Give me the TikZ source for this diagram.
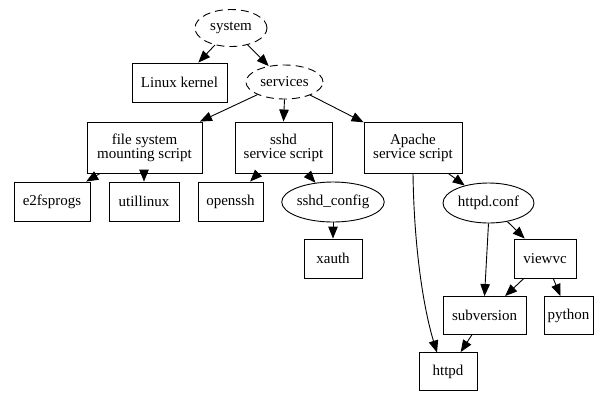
\documentclass[tikz,border=0pt]{standalone}
\usepackage{fontspec}
\setmainfont{Liberation Serif}
\usetikzlibrary{arrows.meta,shapes.geometric}
\begin{document}
\begin{tikzpicture}[x=1pt,y=-1pt,
  every node/.style={font=\fontsize{15}{16}\selectfont, inner sep=0pt, align=center},
  box/.style={draw, line width=0.9pt, rectangle},
  oval/.style={draw, line width=0.9pt, ellipse},
  dashoval/.style={oval, dash pattern=on 8pt off 5pt},
  edge/.style={line width=0.9pt, -{Triangle[length=12pt,width=9.5pt]}}]
\useasboundingbox (0,0) rectangle (603,392);
\node[dashoval, minimum width=72, minimum height=37] (system) at (231,28) {system};
\node[box, minimum width=95, minimum height=39] (kernel) at (179.5,82.5) {Linux kernel};
\node[dashoval, minimum width=77, minimum height=34] (services) at (284.5,82) {services};
\node[box, minimum width=115, minimum height=51] (fs) at (144.5,147.5) {file system\\[-2pt]mounting script};
\node[box, minimum width=97, minimum height=51] (sshd) at (283.5,147.5) {sshd\\[-2pt]service script};
\node[box, minimum width=98, minimum height=51] (apache) at (413,147.5) {Apache\\[-2pt]service script};
\node[box, minimum width=76, minimum height=39] (e2fs) at (52,201.5) {e2fsprogs};
\node[box, minimum width=70, minimum height=39] (util) at (144,201.5) {utillinux};
\node[box, minimum width=65, minimum height=39] (openssh) at (230.5,201.5) {openssh};
\node[oval, minimum width=102, minimum height=40] (sshdconf) at (333,202) {sshd\_config};
\node[box, minimum width=58, minimum height=39] (xauth) at (333,258.5) {xauth};
\node[oval, minimum width=91, minimum height=40] (httpdconf) at (488.5,203) {httpd.conf};
\node[box, minimum width=62, minimum height=39] (viewvc) at (545,258.5) {viewvc};
\node[box, minimum width=83, minimum height=38] (subversion) at (484.5,315.5) {subversion};
\node[box, minimum width=49, minimum height=38] (python) at (568.5,315.5) {python};
\node[box, minimum width=58, minimum height=38] (httpd) at (448,371.5) {httpd};
\coordinate (httpdin) at (437,352.5);
\coordinate (apacheout) at (413,173);
\draw[edge] (system) -- (kernel);
\draw[edge] (system) -- (services);
\draw[edge] (services) -- (fs);
\draw[edge] (services.south) -- (sshd.north);
\draw[edge] (services) -- (apache);
\draw[edge] (fs) -- (e2fs);
\draw[edge] (fs.south -| util.north) -- (util.north);
\draw[edge] (sshd) -- (openssh);
\draw[edge] (sshd) -- (sshdconf);
\draw[edge] (sshdconf) -- (xauth);
\draw[edge] (apache) -- (httpdconf);
\draw[edge] (apacheout) .. controls (414,250) and (424,310) .. (httpdin);
\draw[edge] (httpdconf.south) -- (subversion.north);
\draw[edge] (httpdconf) -- (viewvc);
\draw[edge] (viewvc) -- (subversion);
\draw[edge] (viewvc) -- (python);
\draw[edge] (subversion) -- (httpd);
\end{tikzpicture}
\end{document}
